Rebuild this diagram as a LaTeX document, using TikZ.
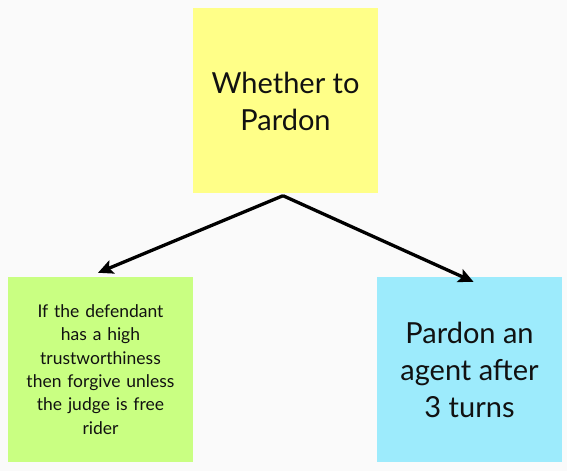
\documentclass[tikz,border=0pt]{standalone}
\usepackage{fontspec}
\setmainfont{Lato}
\usetikzlibrary{arrows.meta}
\definecolor{bg}{HTML}{FAFAFA}
\definecolor{stickyyellow}{HTML}{FFFF88}
\definecolor{stickygreen}{HTML}{C9FF82}
\definecolor{stickycyan}{HTML}{9DEBFC}
\definecolor{ink}{HTML}{111111}
\begin{document}
\begin{tikzpicture}[x=1pt,y=1pt,
  sticky/.style={minimum width=185pt,minimum height=185pt,inner sep=0pt,align=center,text=ink},
  bigtext/.style={font=\fontsize{29}{37}\selectfont},
  smalltext/.style={font=\fontsize{17.5}{23.3}\selectfont,text width=180pt},
  conn/.style={line width=3.3pt,-{Stealth[length=15pt,width=14pt,inset=3pt]}}]
\fill[bg] (0,0) rectangle (567,471);
\useasboundingbox (0,0) rectangle (567,471);
\node[sticky,fill=stickyyellow,bigtext] (q) at (285.5,370) {Whether to\\Pardon};
\node[sticky,fill=stickygreen,smalltext] (a) at (100.5,101.5) {If the defendant\\has a high\\trustworthiness\\then forgive unless\\the judge is free\\rider};
\node[sticky,fill=stickycyan,bigtext] (b) at (469.5,101.5) {Pardon an\\agent after\\3 turns};
\coordinate (apex) at ([xshift=-2.5pt,yshift=-2pt]q.south);
\draw[conn] (apex) -- ([xshift=-2.5pt,yshift=4pt]a.north);
\draw[conn] (apex) -- ([xshift=4pt,yshift=-5pt]b.north);
\end{tikzpicture}
\end{document}
